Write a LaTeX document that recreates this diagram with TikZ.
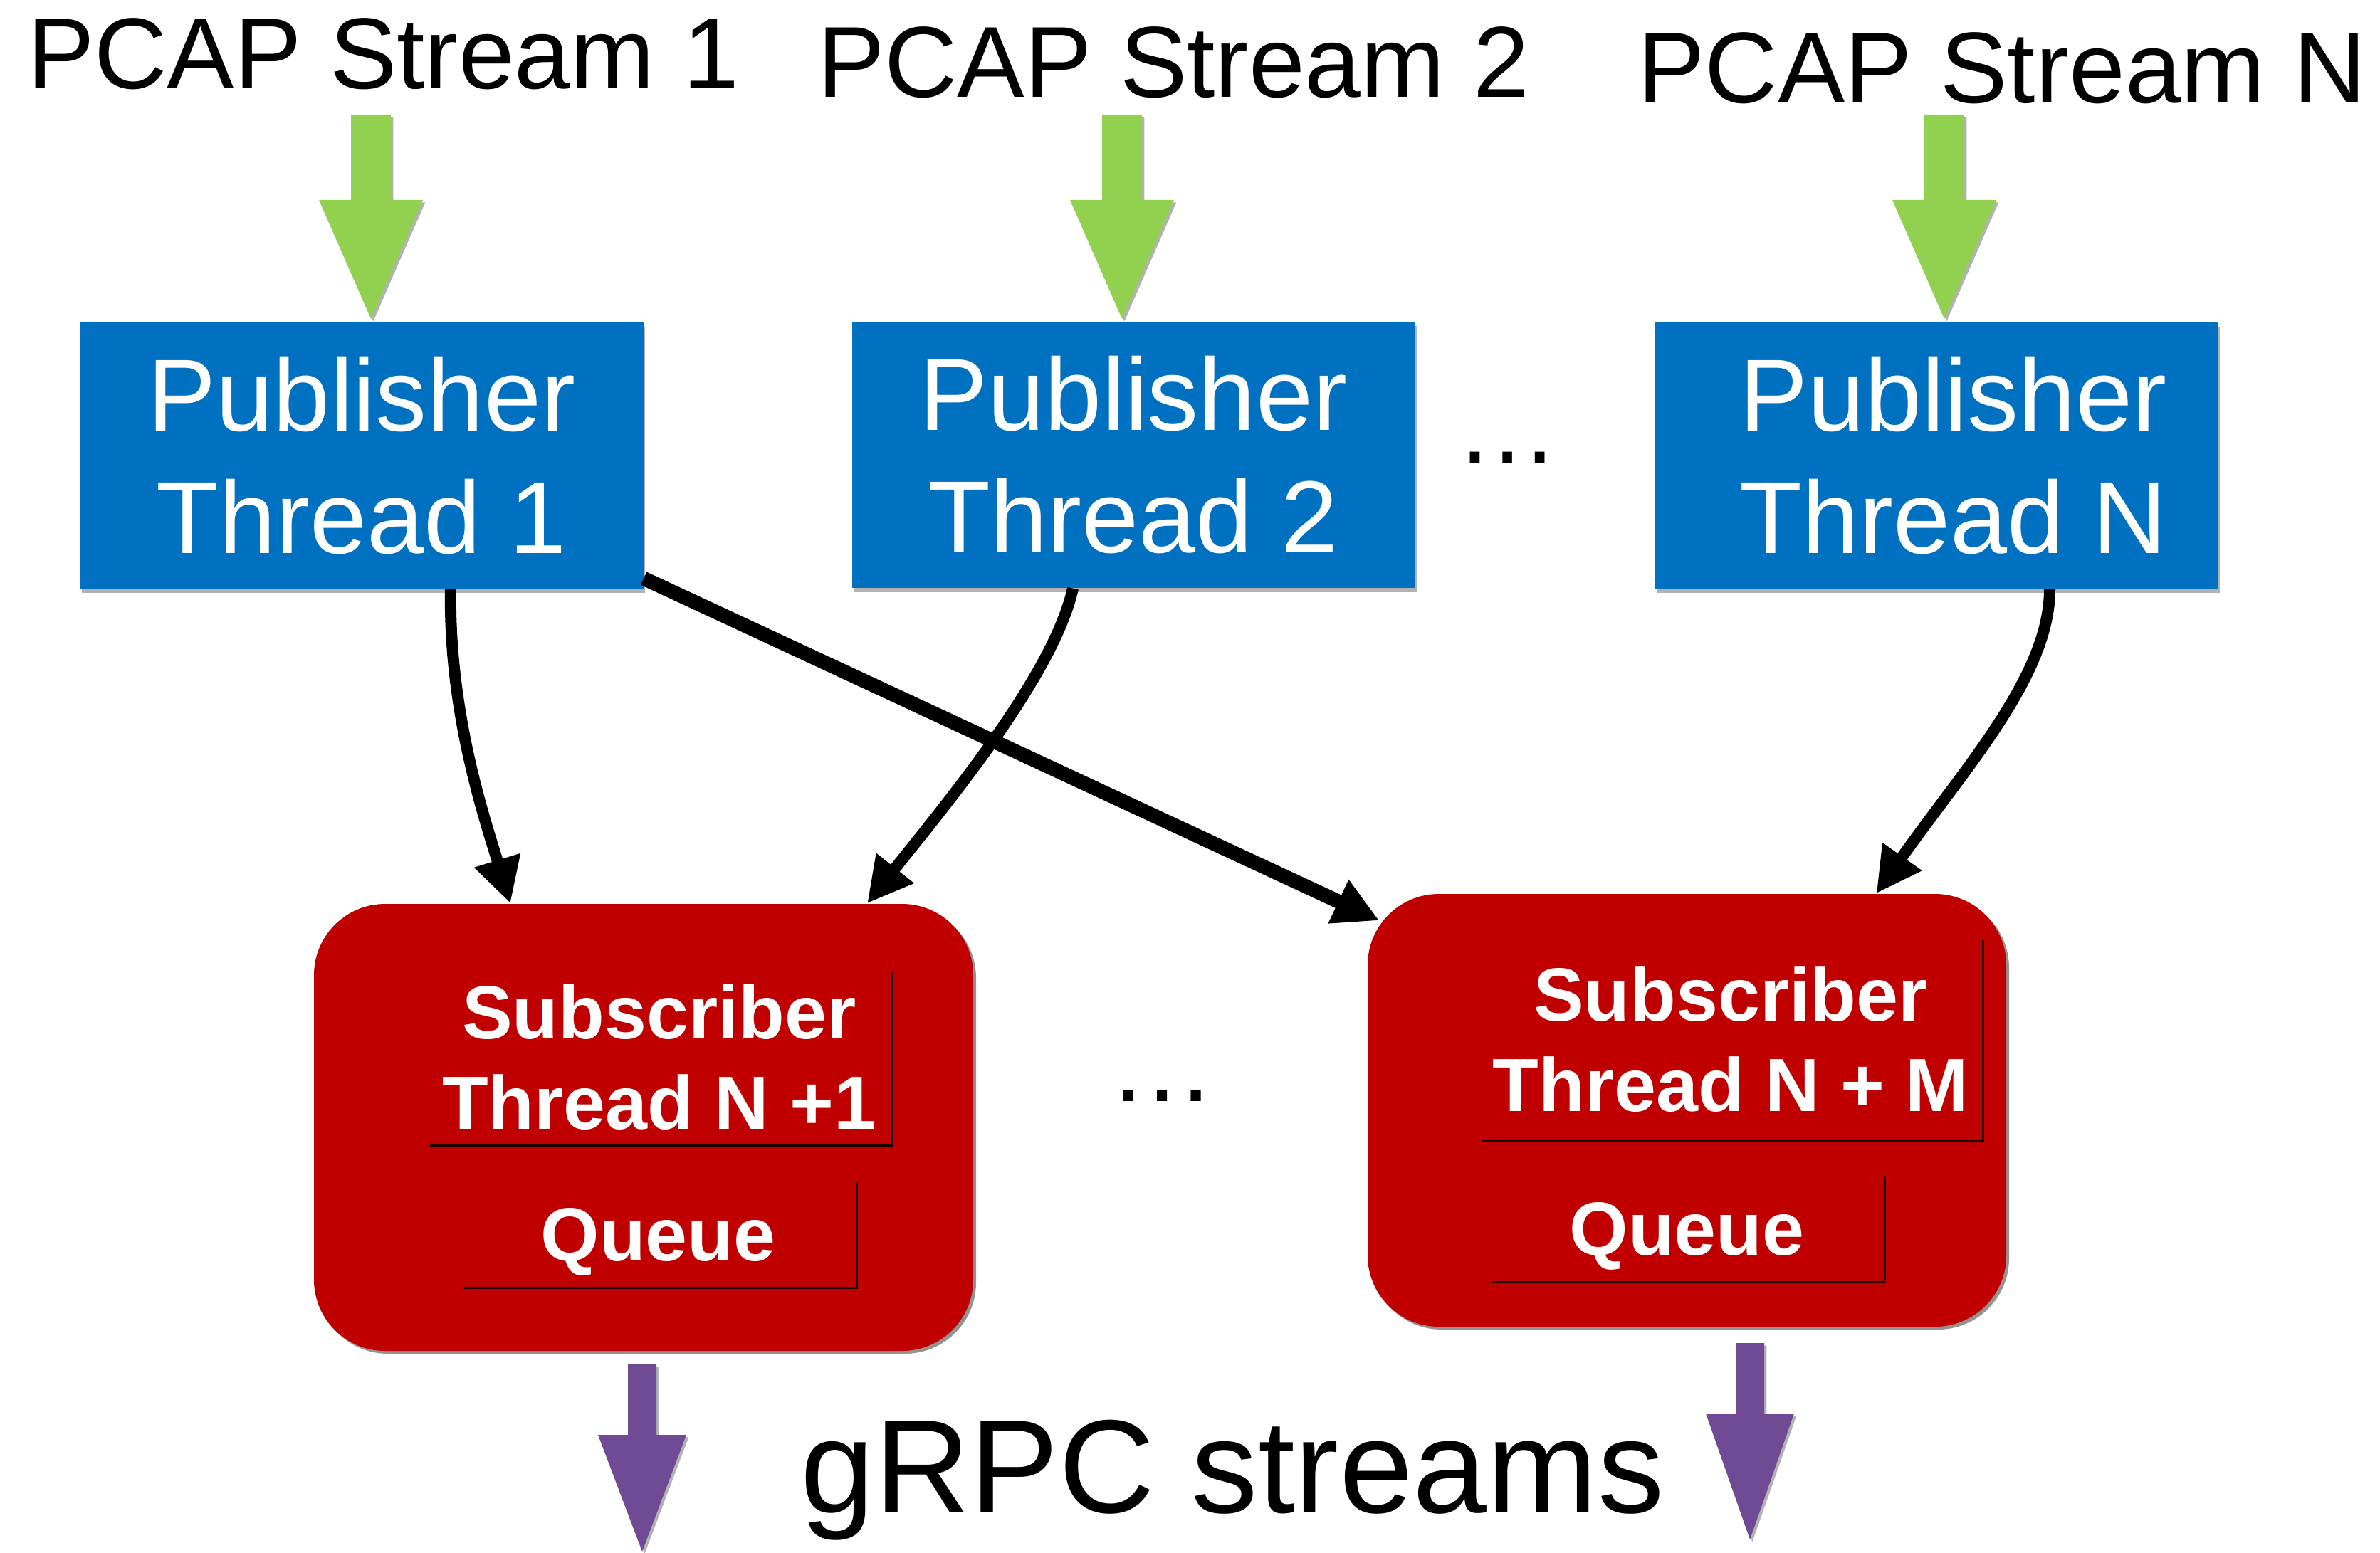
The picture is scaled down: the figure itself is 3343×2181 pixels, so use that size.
\documentclass[tikz,border=0pt]{standalone}
\usepackage{fontspec}
\setmainfont{Liberation Sans}
\usetikzlibrary{arrows.meta,shadows,calc}

\definecolor{pubblue}{HTML}{0070C0}
\definecolor{srcgreen}{HTML}{92D050}
\definecolor{subred}{HTML}{C00000}
\definecolor{outpurple}{RGB}{113,74,150}

% block arrow: #1 colour, #2 centre x, #3 half shaft, #4 half head,
% #5 shaft top, #6 head base, #7 tip
\newcommand\DrawBlockArrow[7]{%
  \fill[#1, blockshadow] (#2-#3,#5) -- (#2+#3,#5) -- (#2+#3,#6) -- (#2+#4,#6)
    -- (#2,#7) -- (#2-#4,#6) -- (#2-#3,#6) -- cycle;}

\tikzset{
  titletext/.style={anchor=base, inner sep=0pt, font=\fontsize{42.5pt}{51pt}\selectfont},
  pubbox/.style={fill=pubblue, text=white, align=center, inner sep=0pt,
    minimum width=237.3pt, minimum height=112.2pt,
    font=\fontsize{43.2pt}{51.8pt}\selectfont,
    drop shadow={shadow xshift=0.8pt, shadow yshift=-1.8pt, fill=black, opacity=0.3}},
  subbox/.style={fill=subred, rounded corners=30pt, inner sep=0pt,
    drop shadow={shadow xshift=1.2pt, shadow yshift=-1.2pt, fill=black!60, opacity=0.7}},
  innerbox/.style={fill=subred, text=white, align=center, inner sep=0pt,
    font=\bfseries\fontsize{31.8pt}{38.1pt}\selectfont,
    drop shadow={shadow xshift=1pt, shadow yshift=-1pt, fill=black, opacity=0.85}},
  queuebox/.style={innerbox, font=\bfseries\fontsize{31.8pt}{38pt}\selectfont,
    text height=22.8pt, text depth=0pt},
  conn/.style={draw=black, line width=4.8pt,
    -{Triangle[length=19pt,width=19pt]}},
  blockshadow/.style={drop shadow={shadow xshift=1pt, shadow yshift=-1pt, fill=black, opacity=0.3}},
  dotstext/.style={anchor=base, inner sep=0pt, font=\fontsize{43.2pt}{52pt}\selectfont}
}

\begin{document}
\begin{tikzpicture}[x=0.3pt, y=-0.3pt]
\useasboundingbox[fill=white] (0,0) rectangle (3343,2181);

% stream titles
\node[titletext] (t1) at (538,125) {PCAP Stream 1};
\node[titletext] (t2) at (1648,137) {PCAP Stream 2};
\node[titletext] (tN) at (2812,145) {PCAP Stream N};

% incoming streams
\DrawBlockArrow{srcgreen}{521}{28}{73}{161}{281}{448}
\DrawBlockArrow{srcgreen}{1576}{28}{73}{161}{281}{448}
\DrawBlockArrow{srcgreen}{2731}{28}{73}{161}{281}{448}

% publisher threads
\node[pubbox] (pub1) at (508,640) {Publisher\\Thread 1};
\node[pubbox] (pub2) at (1592,639) {Publisher\\Thread 2};
\node[pubbox] (pubN) at (2720,640) {\hspace*{14pt}Publisher\\\hspace*{14pt}Thread N};
\node[dotstext] (dots1) at (2117,650) {…};

% subscriber threads
\node[subbox, minimum width=277.8pt, minimum height=188.4pt] (subA) at (904,1584) {};
\node[subbox, minimum width=269.1pt, minimum height=182.4pt] (subB) at (2369.5,1560) {};

\node[innerbox, minimum width=195pt, minimum height=73.5pt] (thA) at (926,1485.5)
  {Subscriber\\Thread N +1};
\node[queuebox, minimum width=166.5pt, minimum height=45pt] (qA) at (924.5,1733) {Queue};

\node[innerbox, minimum width=211.8pt, minimum height=85.2pt] (thB) at (2431,1460)
  {Subscriber\\Thread N + M};
\node[queuebox, minimum width=165.9pt, minimum height=45pt] (qB) at (2369.5,1725) {Queue};

\node[dotstext, font=\fontsize{45pt}{54pt}\selectfont] (dots2) at (1632,1547) {…};

% publisher to subscriber connections
\draw[conn] ($(pub1.south)+(125,0)$) .. controls +(-3,172) and +(-37,-121) .. ($(subA.north)+(-187,0)$);
\draw[conn] ($(pub2.south)+(-85,0)$) .. controls +(-27,122) and +(112,-141) .. ($(subA.north)+(314,0)$);
\draw[conn, line width=6pt] ($(pub1.south east)+(0,-15)$) -- ($(subB.north west)+(17,38)$);
\draw[conn] ($(pubN.south)+(159,0)$) .. controls +(0,122) and +(124,-176) .. ($(subB.north)+(266,0)$);

% outgoing gRPC streams
\DrawBlockArrow{outpurple}{902}{20}{62}{1917}{2016}{2180}
\DrawBlockArrow{outpurple}{2458}{20}{62}{1887}{1986}{2163}
\node[anchor=base, inner sep=0pt, font=\fontsize{56pt}{67pt}\selectfont] (grpc) at (1731,2125) {gRPC streams};
\end{tikzpicture}
\end{document}
